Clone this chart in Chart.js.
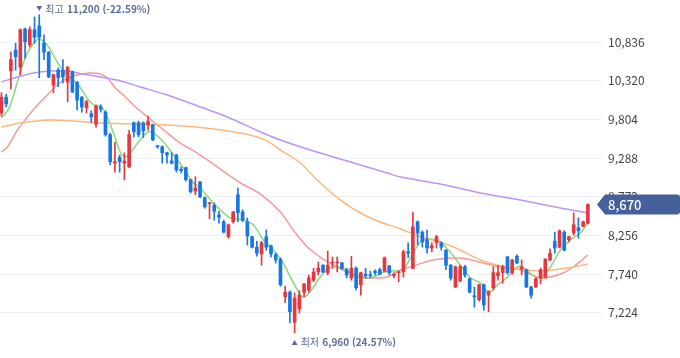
<!DOCTYPE html>
<html lang="ko">
<head>
<meta charset="utf-8">
<title>주가 차트</title>
<script src="https://cdn.jsdelivr.net/npm/chart.js@4.4.1/dist/chart.umd.min.js"></script>
<style>
  html, body { margin: 0; padding: 0; background: #fff; }
  #wrap { position: relative; width: 680px; height: 358px; }
</style>
</head>
<body>
<div id="wrap"><canvas id="chart"></canvas></div>
<script>
// ---- Data ----
const opens = [
  9890, 10100, 10450, 10730, 10500, 11010, 10800, 11000, 11050, 10820,
  10700, 10260, 10460, 10460, 10300, 10440, 10300, 10100, 9960, 9880,
  9740, 9970, 9900, 9600, 9220, 9300, 9220, 9170, 9760, 9760,
  9760, 9730, 9730, 9450, 9440, 9360, 9250, 9330, 9140, 9160,
  9000, 8850, 8970, 8760, 8680, 8660, 8530, 8440, 8240, 8440,
  8800, 8570, 8440, 8240, 8100, 8010, 8240, 8120, 8000, 7940,
  7440, 7500, 7100, 7280, 7500, 7530, 7660, 7770, 7860, 7760,
  7890, 7890, 7890, 7800, 7690, 7820, 7600, 7740, 7730, 7780,
  7800, 7780, 7850, 7720, 7760, 7770, 8040, 7820, 8440, 8300,
  8200, 8090, 8160, 8160, 8060, 7860, 7570, 7650, 7840, 7680,
  7450, 7400, 7600, 7460, 7560, 7720, 7760, 7970, 7760, 7980,
  7810, 7800, 7570, 7570, 7690, 7700, 7930, 8180, 8100, 8300,
  8200, 8290, 8360, 8380, 8420
];
const highs = [
  10160, 10140, 10700, 10820, 11010, 11020, 11040, 11170, 11200, 10930,
  10710, 10410, 10490, 10600, 10510, 10450, 10310, 10110, 10060, 9920,
  10000, 10000, 9920, 9620, 9500, 9330, 9360, 9660, 9770, 9780,
  9770, 9850, 9740, 9460, 9450, 9370, 9360, 9340, 9170, 9170,
  9010, 9040, 8980, 8770, 8700, 8690, 8580, 8460, 8410, 8580,
  8890, 8600, 8490, 8250, 8180, 8180, 8330, 8130, 8020, 7960,
  7580, 7520, 7490, 7520, 7620, 7730, 7820, 7900, 7870, 8050,
  7970, 7970, 7900, 7820, 7980, 7840, 7770, 7820, 7780, 7800,
  7820, 7970, 7860, 7760, 7780, 8060, 8160, 8570, 8450, 8320,
  8330, 8160, 8260, 8170, 8070, 7870, 7850, 7860, 7860, 7690,
  7570, 7610, 7610, 7520, 7840, 7860, 7860, 7980, 7940, 8000,
  7930, 7810, 7580, 7690, 7820, 7950, 8080, 8300, 8330, 8320,
  8250, 8560, 8490, 8450, 8680
];
const lows = [
  9850, 9970, 10210, 10460, 10400, 10620, 10770, 10820, 10360, 10600,
  10360, 10160, 10240, 10290, 10040, 10160, 9930, 9900, 9890, 9760,
  9700, 9900, 9580, 9200, 9100, 9100, 9000, 9160, 9570, 9570,
  9560, 9660, 9520, 9420, 9220, 9220, 9210, 9100, 9090, 8980,
  8820, 8800, 8760, 8620, 8480, 8460, 8420, 8290, 8220, 8420,
  8440, 8440, 8130, 8090, 7980, 7860, 8060, 7970, 7890, 7580,
  7360, 7090, 6960, 7220, 7440, 7500, 7640, 7730, 7760, 7730,
  7820, 7770, 7800, 7690, 7660, 7530, 7460, 7690, 7690, 7730,
  7730, 7770, 7730, 7690, 7640, 7700, 7960, 7810, 8130, 8100,
  8020, 8040, 8090, 8060, 7800, 7660, 7560, 7640, 7700, 7490,
  7300, 7380, 7260, 7240, 7530, 7660, 7620, 7740, 7740, 7880,
  7730, 7560, 7420, 7560, 7610, 7690, 7920, 8020, 8090, 8050,
  8170, 8260, 8220, 8370, 8410
];
const closes = [
  10100, 10010, 10600, 10640, 11000, 10840, 11000, 10900, 10900, 10700,
  10370, 10400, 10360, 10370, 10500, 10170, 10060, 9970, 10040, 9840,
  9980, 9940, 9600, 9240, 9240, 9240, 9250, 9600, 9640, 9600,
  9650, 9780, 9530, 9440, 9360, 9330, 9220, 9130, 9120, 9000,
  8840, 8890, 8770, 8640, 8690, 8580, 8500, 8300, 8400, 8570,
  8560, 8460, 8250, 8100, 8020, 8160, 8100, 8010, 7930, 7600,
  7500, 7240, 7420, 7460, 7610, 7690, 7770, 7820, 7770, 7860,
  7900, 7900, 7820, 7730, 7820, 7560, 7760, 7720, 7720, 7760,
  7740, 7960, 7760, 7740, 7770, 8040, 8020, 8370, 8290, 8170,
  8090, 8120, 8240, 8100, 7860, 7690, 7840, 7840, 7730, 7500,
  7440, 7600, 7330, 7510, 7760, 7760, 7840, 7760, 7930, 7890,
  7840, 7570, 7460, 7680, 7800, 7940, 8020, 8090, 8320, 8060,
  8240, 8400, 8320, 8440, 8670
];

// moving averages as [candle index, price]
const ma5 = [
  [0, 9823], [1.1, 9903], [1.9, 9996], [3.0, 10223], [4.0, 10436], [5.1, 10636],
  [6.1, 10756], [7.8, 10876], [9.3, 10823], [10.4, 10729], [11.8, 10569], [13.1, 10449],
  [14.6, 10356], [16.1, 10276], [17.3, 10169], [18.4, 10063], [19.9, 9983], [20.9, 9983],
  [22.0, 9889], [23.7, 9623], [25.2, 9356], [26.2, 9303], [27.3, 9356], [28.8, 9489],
  [30.9, 9636], [32.1, 9623], [34.3, 9503], [36.4, 9329], [38.5, 9156], [40.6, 8956],
  [42.1, 8889], [44.2, 8729], [46.3, 8596], [48.4, 8489], [51.2, 8463], [53.3, 8396],
  [55.4, 8196], [57.5, 8063], [59.6, 7889], [61.1, 7703], [62.6, 7529], [63.6, 7436],
  [64.7, 7463], [66.0, 7569], [67.4, 7703], [68.9, 7796], [70.2, 7836], [72.3, 7823],
  [74.4, 7729], [76.5, 7689], [78.6, 7703], [80.8, 7769], [82.9, 7783], [85.0, 7809],
  [86.5, 7956], [88.6, 8169], [90.7, 8209], [92.8, 8169], [94.9, 8036], [97.0, 7863],
  [99.2, 7689], [101.3, 7623], [103.0, 7489], [104.9, 7596], [107.0, 7703], [109.1, 7836],
  [110.4, 7823], [112.3, 7729], [114.0, 7689], [116.1, 7836], [118.2, 8063], [120.3, 8196],
  [122.4, 8289], [124, 8423]
];
const ma20 = [
  [0, 9369], [1.3, 9436], [3.4, 9663], [5.5, 9836], [7.6, 9996], [9.7, 10129],
  [11.8, 10263], [14.0, 10356], [16.1, 10396], [18.8, 10423], [20.9, 10409], [22.4, 10356],
  [24.1, 10223], [25.8, 10129], [27.9, 9996], [30.9, 9836], [34.3, 9663], [37.8, 9489],
  [41.4, 9356], [44.8, 9209], [47.8, 9076], [50.5, 8956], [54.8, 8809], [59.0, 8569],
  [61.7, 8329], [64.7, 8103], [67.4, 7969], [70.2, 7863], [73.2, 7769], [76.5, 7703],
  [78.6, 7689], [81.6, 7703], [84.4, 7796], [87.1, 7849], [91.3, 7929], [95.6, 7956],
  [98.5, 7943], [101.9, 7889], [105.5, 7836], [109.1, 7809], [111.2, 7756], [114.0, 7689],
  [116.1, 7703], [118.8, 7756], [120.9, 7836], [124, 7996]
];
const ma60 = [
  [0, 9703], [4.0, 9756], [10.4, 9796], [15.2, 9783], [20.9, 9756], [27.9, 9743],
  [35.1, 9729], [42.1, 9696], [50.5, 9623], [54.8, 9556], [56.9, 9489],
  [59.0, 9396], [63.2, 9223], [67.4, 8956], [71.7, 8729], [75.9, 8556], [80.1, 8436],
  [84.4, 8343], [88.6, 8236], [92.8, 8169], [97.0, 8063], [101.3, 7929], [105.5, 7849],
  [109.7, 7809], [114.0, 7783], [118.2, 7809], [124, 7876]
];
const ma120 = [
  [0, 10303], [3.4, 10369], [6.8, 10423], [10.4, 10449], [14.0, 10449], [17.3, 10409],
  [20.9, 10369], [24.5, 10329], [29.4, 10236], [35.1, 10129], [42.1, 9969], [47.8, 9836],
  [54.8, 9636], [59.0, 9529], [65.3, 9396], [73.8, 9236], [81.6, 9089], [84.4, 9036],
  [92.8, 8943], [101.3, 8823], [109.7, 8729], [118.2, 8623], [124, 8556]
];

const yTicks = [7224, 7740, 8256, 8772, 9288, 9804, 10320, 10836];

const UP = '#e8363f';
const DOWN = '#1677e6';
const LABEL = '#5a6c9c';
const FONT = "'Noto Sans CJK KR', 'Noto Sans', sans-serif";

const idx = closes.map((_, i) => i);
const candleColors = idx.map(i => closes[i] >= opens[i] ? UP : DOWN);

function maLine(points, color) {
  return {
    type: 'line',
    data: points.map(([x, y]) => ({ x, y })),
    borderColor: color,
    borderWidth: 1.5,
    pointRadius: 0,
    tension: 0.3,
    order: 2
  };
}

// ---- plugins ----
const lastPriceBadge = {
  id: 'lastPriceBadge',
  afterDraw(chart) {
    const { ctx, scales: { y }, chartArea, width } = chart;
    const last = closes[closes.length - 1];
    const py = y.getPixelForValue(last);
    const tip = chartArea.right - 6;
    const left = tip + 8;
    ctx.save();
    ctx.fillStyle = '#45609b';
    ctx.beginPath();
    ctx.moveTo(tip, py);
    ctx.lineTo(left, py - 10);
    ctx.lineTo(width - 3, py - 10);
    ctx.quadraticCurveTo(width, py - 10, width, py - 7);
    ctx.lineTo(width, py + 7);
    ctx.quadraticCurveTo(width, py + 10, width - 3, py + 10);
    ctx.lineTo(left, py + 10);
    ctx.closePath();
    ctx.fill();
    ctx.fillStyle = '#fff';
    ctx.font = '500 13px ' + FONT;
    ctx.textBaseline = 'middle';
    ctx.fillText(last.toLocaleString('en-US'), left + 3, py + 1);
    ctx.restore();
  }
};

const hiLoLabels = {
  id: 'hiLoLabels',
  afterDraw(chart) {
    const { ctx, scales: { x } } = chart;
    const last = closes[closes.length - 1];
    const hi = Math.max(...highs);
    const lo = Math.min(...lows);
    const hiX = x.getPixelForValue(highs.indexOf(hi));
    const loX = x.getPixelForValue(lows.indexOf(lo));

    function label(px, py, down, word, value, pct) {
      ctx.save();
      ctx.fillStyle = LABEL;
      ctx.beginPath();
      if (down) {
        ctx.moveTo(px - 3, py - 3); ctx.lineTo(px + 3, py - 3); ctx.lineTo(px, py + 2);
      } else {
        ctx.moveTo(px - 3, py + 3); ctx.lineTo(px + 3, py + 3); ctx.lineTo(px, py - 2);
      }
      ctx.closePath();
      ctx.fill();
      ctx.textBaseline = 'middle';
      ctx.font = '400 10px ' + FONT;
      let tx = px + 6;
      ctx.fillText(word, tx, py);
      tx += ctx.measureText(word + ' ').width + 1;
      ctx.font = '700 10px ' + FONT;
      ctx.fillText(value.toLocaleString('en-US') + ' (' + pct + '%)', tx, py);
      ctx.restore();
    }

    label(hiX, 9, true, '최고', hi, ((last - hi) / hi * 100).toFixed(2));
    label(loX, 342, false, '최저', lo, ((last - lo) / lo * 100).toFixed(2));
  }
};

new Chart(document.getElementById('chart'), {
  type: 'bar',
  data: {
    datasets: [
      {
        data: idx.map(i => ({ x: i, y: [lows[i], highs[i]] })),
        backgroundColor: candleColors,
        barThickness: 1,
        grouped: false,
        order: 1
      },
      {
        data: idx.map(i => ({ x: i, y: [opens[i], closes[i]] })),
        backgroundColor: candleColors,
        barThickness: 3,
        minBarLength: 1,
        grouped: false,
        order: 1
      },
      maLine(ma120, '#bd94f5'),
      maLine(ma60, '#f9b97c'),
      maLine(ma20, '#f59a98'),
      maLine(ma5, '#86d97c')
    ]
  },
  options: {
    responsive: true,
    maintainAspectRatio: false,
    animation: false,
    events: [],
    layout: { padding: 0 },
    plugins: { legend: { display: false }, tooltip: { enabled: false } },
    scales: {
      x: { type: 'linear', offset: false, min: -0.3, max: 127.2, display: false },
      y: {
        position: 'right',
        min: 6623,
        max: 11396,
        afterBuildTicks: s => { s.ticks = yTicks.map(v => ({ value: v })); },
        afterFit: s => { s.width = 77; s.paddingTop = 0; s.paddingBottom = 0; },
        grid: { color: '#eef0f4', drawTicks: false },
        border: { display: false },
        ticks: {
          padding: 5,
          color: '#444',
          font: { size: 12, family: FONT },
          callback: v => v.toLocaleString('en-US')
        }
      }
    }
  },
  plugins: [lastPriceBadge, hiLoLabels]
});
</script>
</body>
</html>
